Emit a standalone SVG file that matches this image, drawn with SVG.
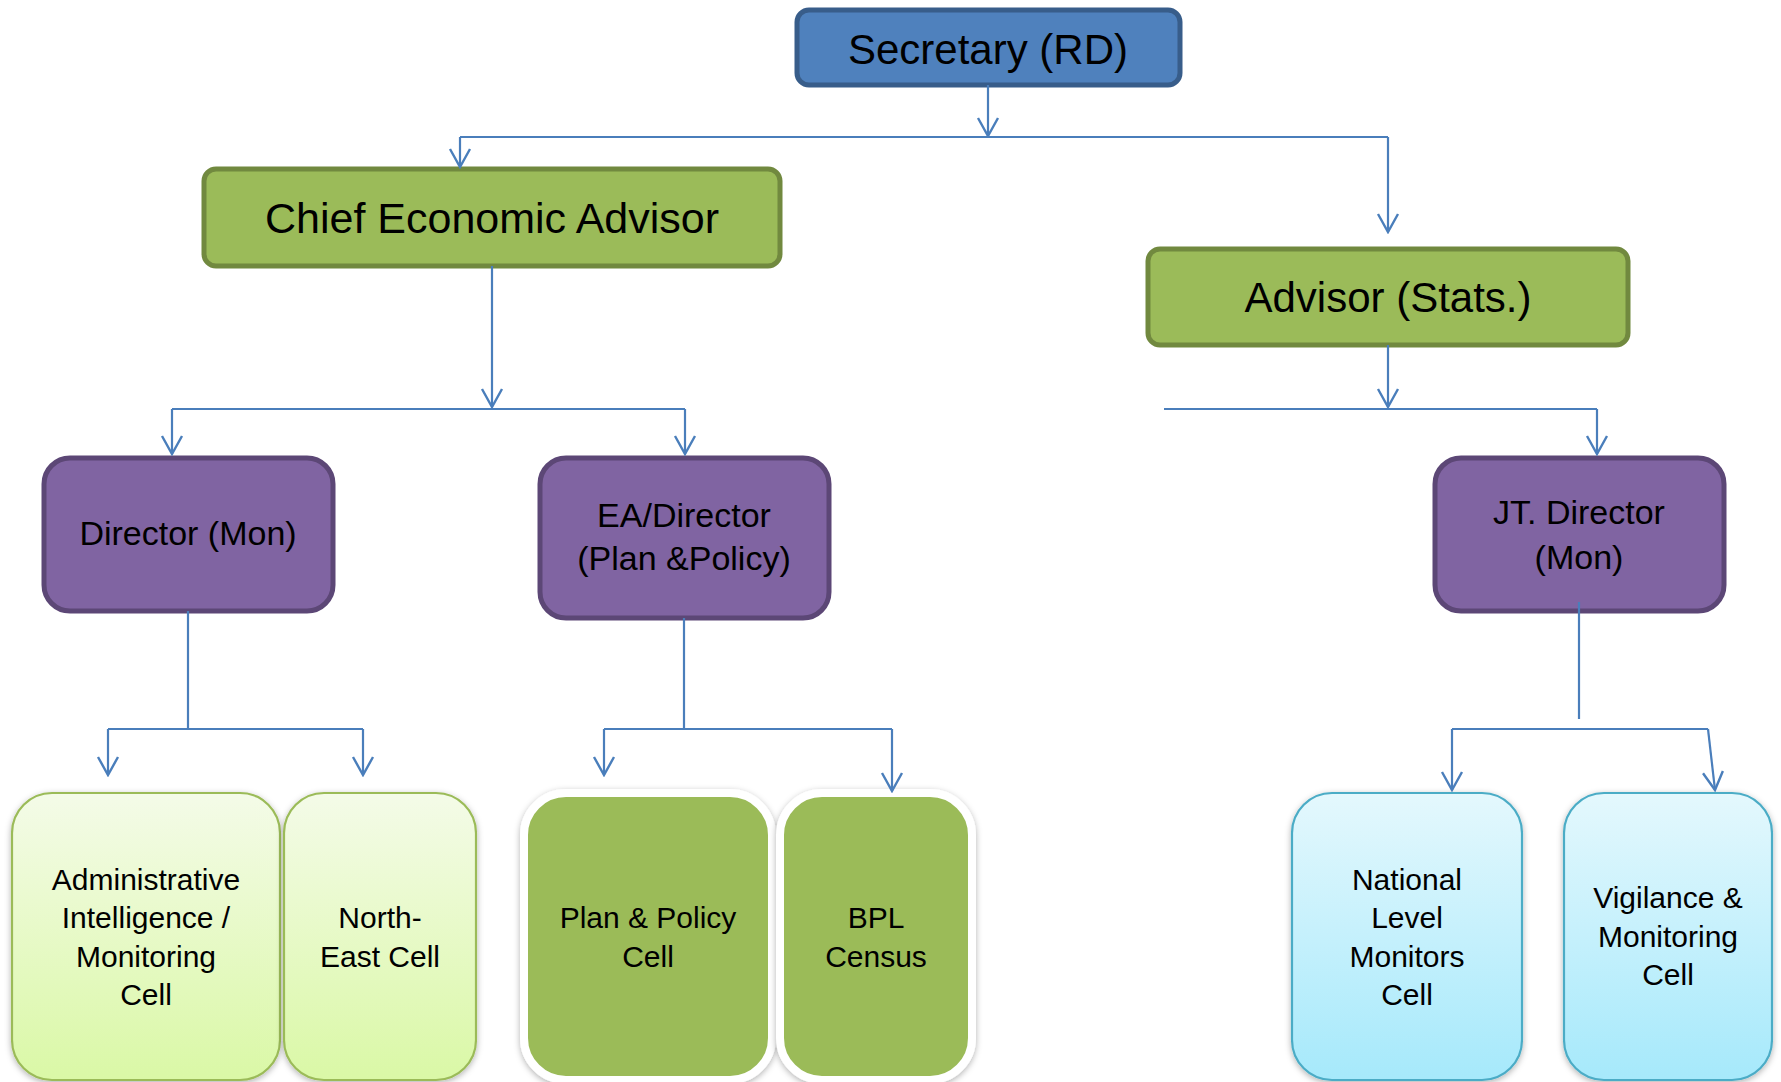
<svg xmlns="http://www.w3.org/2000/svg" width="1781" height="1082" viewBox="0 0 1781 1082">
<style>
.conn{fill:none;stroke:#4a7ebb;stroke-width:2.2}
.blue{fill:#4f81bd;stroke:#385d8a;stroke-width:5}
.green{fill:#9bbb59;stroke:#71893f;stroke-width:5}
.purple{fill:#8064a2;stroke:#5c4776;stroke-width:5}
.lgreen{fill:url(#gLG);stroke:#9bbb59;stroke-width:2.2}
.lblue{fill:url(#gLB);stroke:#4bacc6;stroke-width:2.2}
.solid{fill:#9bbb59;stroke:#ffffff;stroke-width:8}
text{font-family:"Liberation Sans",Arial,sans-serif;fill:#000;text-anchor:middle}
.t1{font-size:42px}
.t2{font-size:34px}
.t3{font-size:30px}
</style>
<defs>
<marker id="arr" markerUnits="userSpaceOnUse" viewBox="-21 -12 23 24" markerWidth="23" markerHeight="24" refX="0" refY="0" orient="auto">
<path d="M-18,-10 L0,0 L-18,10" fill="none" stroke="#4a7ebb" stroke-width="2.4"/>
</marker>
<linearGradient id="gLG" x1="0" y1="0" x2="0" y2="1">
<stop offset="0" stop-color="#f4fbe8"/>
<stop offset="1" stop-color="#daf8a6"/>
</linearGradient>
<linearGradient id="gLB" x1="0" y1="0" x2="0" y2="1">
<stop offset="0" stop-color="#e4f8fd"/>
<stop offset="1" stop-color="#a6e9fb"/>
</linearGradient>
<filter id="sh" x="-10%" y="-10%" width="120%" height="120%">
<feDropShadow dx="0" dy="2" stdDeviation="3" flood-color="#000" flood-opacity="0.3"/>
</filter>
</defs>

<g id="node-secretary">
<rect class="blue" x="797" y="10" width="383" height="75" rx="12"/>
<text class="t1" x="988" y="64">Secretary (RD)</text>
</g>
<g id="node-cea">
<rect class="green" x="204" y="169" width="576" height="97" rx="12"/>
<text class="t1" x="492" y="233" style="font-size:43px">Chief Economic Advisor</text>
</g>
<g id="node-advisor">
<rect class="green" x="1148" y="249" width="480" height="96" rx="12"/>
<text class="t1" x="1388" y="312">Advisor (Stats.)</text>
</g>
<g id="node-director-mon">
<rect class="purple" x="44" y="458" width="289" height="153" rx="26"/>
<text class="t2" x="188" y="545">Director (Mon)</text>
</g>
<g id="node-ea-director">
<rect class="purple" x="540" y="458" width="289" height="160" rx="26"/>
<text class="t2" x="684" y="527">EA/Director</text>
<text class="t2" x="684" y="570">(Plan &amp;Policy)</text>
</g>
<g id="node-jt-director">
<rect class="purple" x="1435" y="458" width="289" height="153" rx="26"/>
<text class="t2" x="1579" y="524">JT. Director</text>
<text class="t2" x="1579" y="569">(Mon)</text>
</g>
<g id="node-admin-cell">
<rect class="lgreen" x="12" y="793" width="268" height="287" rx="40" filter="url(#sh)"/>
<text class="t3" x="146" y="890">Administrative</text>
<text class="t3" x="146" y="928">Intelligence /</text>
<text class="t3" x="146" y="967">Monitoring</text>
<text class="t3" x="146" y="1005">Cell</text>
</g>
<g id="node-northeast-cell">
<rect class="lgreen" x="284" y="793" width="192" height="287" rx="40" filter="url(#sh)"/>
<text class="t3" x="380" y="928">North-</text>
<text class="t3" x="380" y="967">East Cell</text>
</g>
<g id="node-plan-policy-cell">
<rect class="solid" x="524" y="793" width="248" height="287" rx="42" filter="url(#sh)"/>
<text class="t3" x="648" y="928">Plan &amp; Policy</text>
<text class="t3" x="648" y="967">Cell</text>
</g>
<g id="node-bpl-census">
<rect class="solid" x="780" y="793" width="192" height="287" rx="42" filter="url(#sh)"/>
<text class="t3" x="876" y="928">BPL</text>
<text class="t3" x="876" y="967">Census</text>
</g>
<g id="node-national-cell">
<rect class="lblue" x="1292" y="793" width="230" height="287" rx="40" filter="url(#sh)"/>
<text class="t3" x="1407" y="890">National</text>
<text class="t3" x="1407" y="928">Level</text>
<text class="t3" x="1407" y="967">Monitors</text>
<text class="t3" x="1407" y="1005">Cell</text>
</g>
<g id="node-vigilance-cell">
<rect class="lblue" x="1564" y="793" width="208" height="287" rx="40" filter="url(#sh)"/>
<text class="t3" x="1668" y="908">Vigilance &amp;</text>
<text class="t3" x="1668" y="947">Monitoring</text>
<text class="t3" x="1668" y="985">Cell</text>
</g>

<g id="connectors">
<path class="conn" d="M988,85 L988,136" marker-end="url(#arr)"/>
<path class="conn" d="M460,137 L1388,137"/>
<path class="conn" d="M460,137 L460,167" marker-end="url(#arr)"/>
<path class="conn" d="M1388,137 L1388,232" marker-end="url(#arr)"/>
<path class="conn" d="M492,266 L492,407" marker-end="url(#arr)"/>
<path class="conn" d="M172,409 L685,409"/>
<path class="conn" d="M172,409 L172,454" marker-end="url(#arr)"/>
<path class="conn" d="M685,409 L685,454" marker-end="url(#arr)"/>
<path class="conn" d="M1388,345 L1388,407" marker-end="url(#arr)"/>
<path class="conn" d="M1164,409 L1597,409"/>
<path class="conn" d="M1597,409 L1597,454" marker-end="url(#arr)"/>
<path class="conn" d="M188,611 L188,729"/>
<path class="conn" d="M108,729 L363,729"/>
<path class="conn" d="M108,729 L108,775" marker-end="url(#arr)"/>
<path class="conn" d="M363,729 L363,775" marker-end="url(#arr)"/>
<path class="conn" d="M684,618 L684,729"/>
<path class="conn" d="M604,729 L892,729"/>
<path class="conn" d="M604,729 L604,775" marker-end="url(#arr)"/>
<path class="conn" d="M892,729 L892,791" marker-end="url(#arr)"/>
<path class="conn" d="M1579,602 L1579,719"/>
<path class="conn" d="M1452,729 L1708,729"/>
<path class="conn" d="M1452,729 L1452,790" marker-end="url(#arr)"/>
<path class="conn" d="M1708,729 L1715,790" marker-end="url(#arr)"/>
</g>
</svg>
